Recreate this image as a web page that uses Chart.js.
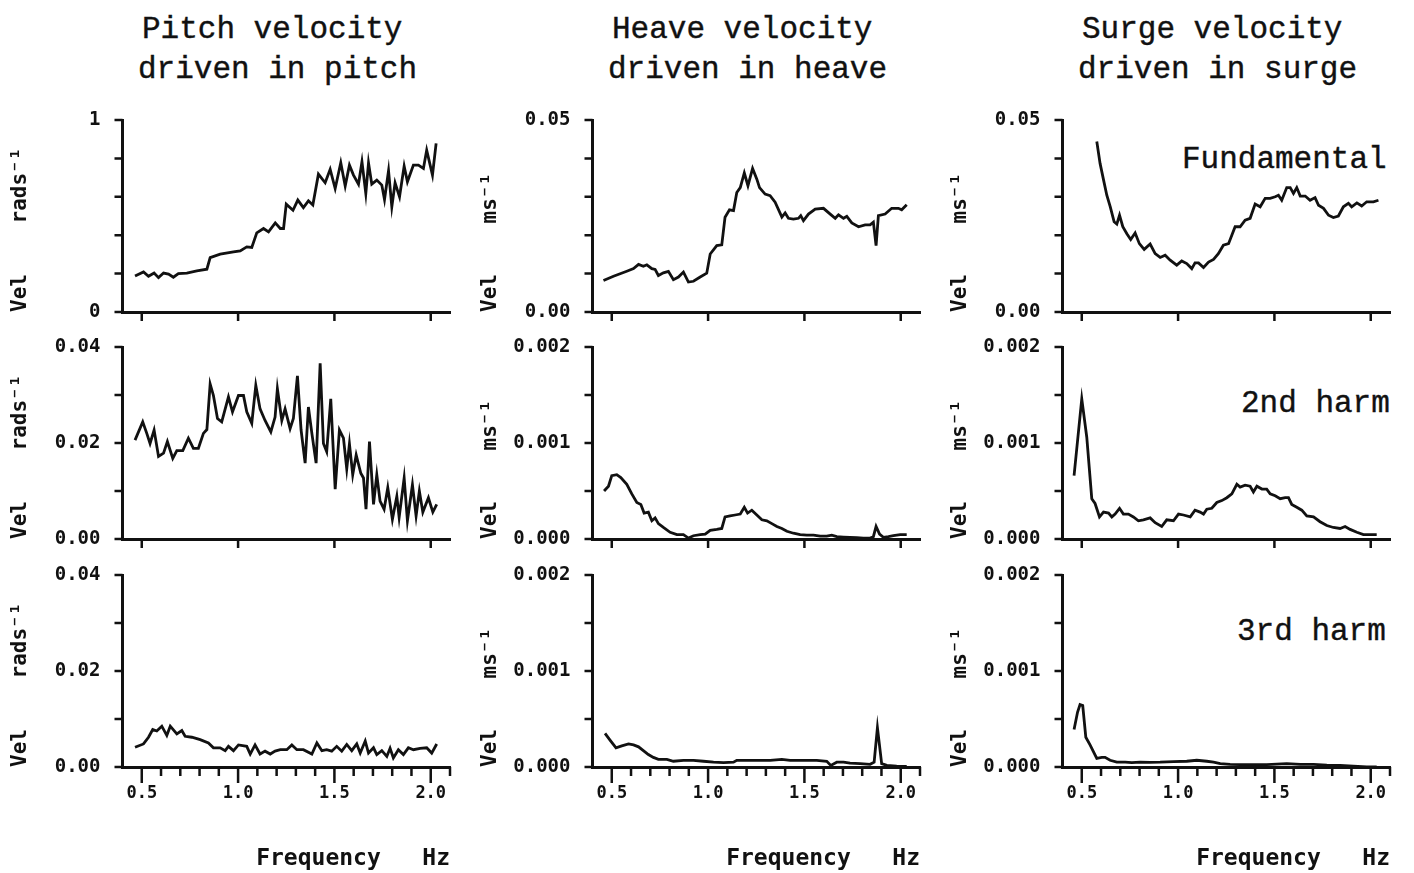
<!DOCTYPE html>
<html>
<head>
<meta charset="utf-8">
<script src="https://cdn.jsdelivr.net/npm/chart.js@4.4.1/dist/chart.umd.min.js"></script>
<style>
  body { margin: 0; background: #fff; width: 1414px; height: 873px; position: relative; overflow: hidden; }
  canvas { position: absolute; }
  .txt { position: absolute; font-family: "Liberation Mono", monospace; font-size: 31px; line-height: 31px;
         color: #111; white-space: pre; -webkit-text-stroke: 0.4px #111; }
</style>
</head>
<body>
<div class="txt" style="left:142px;top:14px">Pitch velocity</div>
<div class="txt" style="left:138px;top:54px">driven in pitch</div>
<div class="txt" style="left:612px;top:14px">Heave velocity</div>
<div class="txt" style="left:608px;top:54px">driven in heave</div>
<div class="txt" style="left:1082px;top:14px">Surge velocity</div>
<div class="txt" style="left:1078px;top:54px">driven in surge</div>
<div class="txt" style="left:1182px;top:144px">Fundamental</div>
<div class="txt" style="left:1241px;top:388px">2nd harm</div>
<div class="txt" style="left:1237px;top:616px">3rd harm</div>

<script>
// pitch velocity, driven in pitch (rad/s)
const pitchFundFreq = [0.465,0.509,0.535,0.564,0.587,0.613,0.639,0.664,0.690,0.734,0.786,0.838,0.855,0.907,0.976,1.011,1.045,1.071,1.097,1.132,1.158,1.193,1.219,1.236,1.250,1.285,1.310,1.339,1.365,1.388,1.417,1.452,1.478,1.504,1.533,1.556,1.578,1.599,1.625,1.643,1.663,1.677,1.694,1.720,1.746,1.760,1.781,1.798,1.815,1.838,1.862,1.879,1.910,1.936,1.962,1.979,2.009,2.028];
const pitchFundVel = [0.188,0.209,0.186,0.203,0.179,0.203,0.197,0.181,0.200,0.203,0.214,0.223,0.283,0.301,0.313,0.318,0.339,0.336,0.412,0.435,0.417,0.464,0.435,0.435,0.562,0.530,0.583,0.544,0.579,0.557,0.718,0.673,0.743,0.643,0.777,0.656,0.765,0.713,0.666,0.783,0.617,0.777,0.666,0.687,0.661,0.586,0.736,0.548,0.673,0.600,0.760,0.678,0.765,0.765,0.748,0.843,0.713,0.878];

const pitch2ndFreq = [0.465,0.505,0.526,0.543,0.564,0.587,0.613,0.633,0.661,0.682,0.713,0.742,0.768,0.794,0.820,0.838,0.855,0.872,0.893,0.915,0.950,0.971,1.002,1.028,1.045,1.071,1.092,1.114,1.140,1.170,1.192,1.204,1.227,1.244,1.270,1.287,1.308,1.327,1.348,1.365,1.383,1.405,1.426,1.443,1.460,1.481,1.504,1.526,1.547,1.564,1.578,1.595,1.613,1.637,1.651,1.664,1.682,1.703,1.720,1.737,1.758,1.777,1.801,1.824,1.836,1.862,1.879,1.905,1.924,1.941,1.959,1.988,2.011,2.031];
const pitch2ndVel = [0.0206,0.0244,0.0220,0.0199,0.0227,0.0172,0.0179,0.0203,0.0168,0.0184,0.0184,0.0210,0.0189,0.0189,0.0220,0.0228,0.0323,0.0299,0.0251,0.0244,0.0296,0.0265,0.0299,0.0299,0.0265,0.0241,0.0320,0.0271,0.0247,0.0223,0.0254,0.0313,0.0247,0.0271,0.0230,0.0251,0.0340,0.0227,0.0158,0.0275,0.0220,0.0158,0.0366,0.0199,0.0182,0.0292,0.0104,0.0227,0.0210,0.0146,0.0198,0.0134,0.0175,0.0137,0.0127,0.0062,0.0203,0.0072,0.0134,0.0079,0.0062,0.0107,0.0041,0.0089,0.0045,0.0127,0.0038,0.0113,0.0048,0.0100,0.0056,0.0086,0.0056,0.0072];

const pitch3rdFreq = [0.465,0.509,0.535,0.557,0.578,0.604,0.630,0.648,0.682,0.708,0.725,0.760,0.803,0.846,0.872,0.907,0.933,0.950,0.976,1.002,1.045,1.063,1.088,1.114,1.140,1.167,1.192,1.219,1.253,1.279,1.305,1.339,1.383,1.409,1.435,1.460,1.486,1.512,1.538,1.564,1.590,1.616,1.634,1.660,1.677,1.703,1.720,1.746,1.772,1.789,1.806,1.832,1.858,1.884,1.910,1.945,1.979,2.005,2.031];
const pitch3rdVel = [0.0041,0.0048,0.0062,0.0078,0.0075,0.0085,0.0066,0.0085,0.0069,0.0076,0.0064,0.0062,0.0057,0.0050,0.0040,0.0040,0.0034,0.0043,0.0034,0.0046,0.0043,0.0027,0.0046,0.0027,0.0033,0.0027,0.0033,0.0036,0.0036,0.0046,0.0036,0.0036,0.0027,0.0050,0.0034,0.0036,0.0033,0.0043,0.0033,0.0047,0.0034,0.0048,0.0029,0.0054,0.0029,0.0040,0.0026,0.0034,0.0022,0.0039,0.0019,0.0036,0.0026,0.0040,0.0036,0.0039,0.0040,0.0029,0.0048];

// heave velocity, driven in heave (m/s)
const heaveFundFreq = [0.457,0.509,0.578,0.613,0.639,0.664,0.682,0.708,0.725,0.742,0.768,0.794,0.820,0.846,0.872,0.898,0.924,0.959,0.993,1.011,1.045,1.071,1.088,1.111,1.132,1.149,1.167,1.188,1.207,1.231,1.253,1.267,1.296,1.322,1.348,1.383,1.400,1.417,1.443,1.469,1.481,1.495,1.521,1.556,1.599,1.634,1.660,1.677,1.703,1.720,1.746,1.781,1.815,1.841,1.858,1.872,1.884,1.919,1.953,1.988,2.005,2.031];
const heaveFundVel = [0.0082,0.0093,0.0106,0.0113,0.0124,0.0119,0.0123,0.0113,0.0111,0.0095,0.0102,0.0106,0.0084,0.0091,0.0104,0.0078,0.0080,0.0091,0.0101,0.0151,0.0173,0.0175,0.0247,0.0266,0.0264,0.0311,0.0324,0.0362,0.0329,0.0374,0.0346,0.0324,0.0307,0.0303,0.0286,0.0247,0.0258,0.0244,0.0242,0.0244,0.0251,0.0238,0.0255,0.0268,0.0270,0.0255,0.0244,0.0253,0.0244,0.0249,0.0232,0.0222,0.0227,0.0227,0.0234,0.0173,0.0251,0.0255,0.0270,0.0270,0.0266,0.0279];

const heave2ndFreq = [0.460,0.483,0.500,0.526,0.547,0.578,0.604,0.630,0.651,0.668,0.690,0.708,0.725,0.742,0.768,0.803,0.838,0.872,0.898,0.924,0.959,0.985,1.011,1.045,1.071,1.088,1.114,1.140,1.167,1.188,1.205,1.227,1.253,1.279,1.305,1.331,1.357,1.383,1.409,1.443,1.478,1.512,1.547,1.582,1.616,1.642,1.668,1.703,1.737,1.772,1.806,1.841,1.858,1.872,1.890,1.910,1.936,1.962,1.997,2.031];
const heave2ndVel = [0.00050,0.00055,0.00066,0.00067,0.00064,0.00057,0.00047,0.00038,0.00036,0.00027,0.00028,0.00019,0.00022,0.00016,0.00012,0.00007,0.000045,0.000045,0.00001,0.000034,0.000045,0.00005,0.00009,0.00010,0.00011,0.00023,0.00024,0.00025,0.00026,0.00033,0.00027,0.00030,0.00025,0.00020,0.00019,0.00016,0.00013,0.00011,0.00008,0.00006,0.000045,0.00004,0.00004,0.00003,0.00003,0.00004,0.000024,0.00002,0.000017,0.000014,0.00001,0.00001,0.000024,0.00013,0.00005,0.000017,0.000024,0.000034,0.000045,0.000045];

const heave3rdFreq = [0.465,0.491,0.522,0.552,0.587,0.613,0.639,0.664,0.690,0.716,0.742,0.786,0.820,0.872,0.924,0.976,1.028,1.080,1.132,1.149,1.201,1.270,1.322,1.383,1.426,1.495,1.564,1.616,1.637,1.668,1.703,1.737,1.789,1.841,1.862,1.879,1.901,1.928,1.979,2.031];
const heave3rdVel = [0.00035,0.00028,0.00020,0.00022,0.00024,0.00023,0.00021,0.00017,0.00013,0.00010,0.00008,0.00008,0.00006,0.00007,0.00007,0.00006,0.00005,0.000045,0.00005,0.00007,0.00007,0.00007,0.00007,0.00008,0.00007,0.00007,0.00007,0.00006,0.000017,0.00005,0.00005,0.00004,0.000035,0.000028,0.00005,0.00041,0.000035,0.000017,0.00001,0.000007];

// surge velocity, driven in surge (m/s)
const surgeFundFreq = [0.578,0.595,0.613,0.630,0.648,0.668,0.682,0.696,0.713,0.734,0.754,0.777,0.799,0.824,0.855,0.881,0.907,0.933,0.959,0.993,1.019,1.045,1.071,1.088,1.106,1.132,1.158,1.184,1.209,1.235,1.262,1.296,1.322,1.348,1.374,1.400,1.426,1.452,1.478,1.504,1.521,1.538,1.564,1.582,1.599,1.616,1.634,1.660,1.685,1.711,1.729,1.755,1.781,1.806,1.832,1.858,1.884,1.901,1.928,1.953,1.979,2.014,2.040];
const surgeFundVel = [0.0444,0.0387,0.0344,0.0304,0.0274,0.0235,0.0229,0.0252,0.0222,0.0204,0.0189,0.0206,0.0178,0.0163,0.0177,0.0152,0.0142,0.0148,0.0135,0.0122,0.0133,0.0126,0.0113,0.0128,0.0128,0.0116,0.0130,0.0137,0.0152,0.0174,0.0178,0.0222,0.0222,0.0239,0.0244,0.0281,0.0274,0.0296,0.0296,0.0300,0.0304,0.0291,0.0324,0.0324,0.0309,0.0324,0.0302,0.0302,0.0291,0.0298,0.0278,0.0270,0.0252,0.0246,0.0250,0.0274,0.0283,0.0274,0.0284,0.0276,0.0287,0.0287,0.0291];

const surge2ndFreq = [0.460,0.500,0.526,0.552,0.569,0.592,0.613,0.639,0.656,0.673,0.696,0.716,0.742,0.768,0.794,0.820,0.855,0.881,0.915,0.941,0.976,1.002,1.028,1.063,1.088,1.114,1.132,1.149,1.175,1.201,1.227,1.253,1.279,1.305,1.322,1.348,1.374,1.391,1.409,1.435,1.460,1.478,1.504,1.530,1.556,1.573,1.590,1.616,1.642,1.668,1.703,1.737,1.772,1.806,1.841,1.867,1.893,1.928,1.962,1.997,2.031];
const surge2ndVel = [0.00066,0.00146,0.00106,0.00042,0.00037,0.00023,0.00028,0.00027,0.00023,0.00026,0.00032,0.00026,0.00026,0.00023,0.00019,0.00020,0.00022,0.00017,0.00013,0.00020,0.00019,0.00026,0.00025,0.00023,0.00030,0.00028,0.00026,0.00031,0.00032,0.00038,0.00040,0.00043,0.00047,0.00057,0.00054,0.00056,0.00055,0.00049,0.00055,0.00052,0.00052,0.00047,0.00045,0.00042,0.00043,0.00043,0.00036,0.00033,0.00030,0.00024,0.00023,0.00018,0.00014,0.00012,0.00011,0.00013,0.00010,0.00007,0.000045,0.000045,0.000045];

const surge3rdFreq = [0.460,0.478,0.491,0.505,0.521,0.543,0.578,0.604,0.621,0.647,0.682,0.725,0.760,0.803,0.855,0.907,0.976,1.045,1.097,1.149,1.184,1.219,1.270,1.322,1.391,1.460,1.564,1.634,1.703,1.772,1.841,1.910,1.979,2.031];
const surge3rdVel = [0.00039,0.00057,0.00065,0.00064,0.00031,0.00023,0.00009,0.00010,0.00010,0.00007,0.00005,0.00005,0.000045,0.00005,0.000049,0.00005,0.000056,0.00006,0.00007,0.00006,0.00005,0.000035,0.000028,0.000024,0.000024,0.000024,0.000035,0.000028,0.000028,0.00002,0.000017,0.00001,0.0,0.0];

const xTickLabels = ['0.5', '1.0', '1.5', '2.0'];
const xTitle = 'Frequency   Hz';
const yTitles = ['Vel    rads\u207B\u00B9', 'Vel    ms\u207B\u00B9', 'Vel    ms\u207B\u00B9'];

// cell geometry: chart area is 122.5..450 across and 25..217 down inside each canvas
const colLeft = [0, 470, 940];
const rowTop = [95, 322, 550];
const rowHeight = [237, 237, 323];

const panels = [
  [pitchFundFreq, pitchFundVel, 0, 0], [heaveFundFreq, heaveFundVel, 0, 1], [surgeFundFreq, surgeFundVel, 0, 2],
  [pitch2ndFreq, pitch2ndVel, 1, 0],   [heave2ndFreq, heave2ndVel, 1, 1],   [surge2ndFreq, surge2ndVel, 1, 2],
  [pitch3rdFreq, pitch3rdVel, 2, 0],   [heave3rdFreq, heave3rdVel, 2, 1],   [surge3rdFreq, surge3rdVel, 2, 2]
];

function yAxisFor(row, col) {
  if (col === 0 && row === 0) return {max: 1, step: 0.2, labelStep: 1, dec: 0};
  if (col === 0) return {max: 0.04, step: 0.01, labelStep: 0.02, dec: 2};
  if (row === 0) return {max: 0.05, step: 0.01, labelStep: 0.05, dec: 2};
  return {max: 0.002, step: 0.0005, labelStep: 0.001, dec: 3};
}

const isMajor = v => Math.abs(v * 2 - Math.round(v * 2)) < 1e-6;

// plotter-style tick marks, longer for the labelled frequencies
const tickMarks = {
  id: 'tickMarks',
  afterDraw(chart, args, opts) {
    const {ctx, chartArea: a, scales: {x, y}} = chart;
    ctx.save();
    ctx.strokeStyle = '#111';
    ctx.lineWidth = 2.5;
    ctx.beginPath();
    x.ticks.forEach(t => {
      const major = isMajor(t.value);
      if (t.value < 0.45) return;
      if (!major && !opts.minor) return;
      const px = x.getPixelForValue(t.value);
      ctx.moveTo(px, a.bottom);
      ctx.lineTo(px, a.bottom + (major ? opts.majorLen : 9));
    });
    y.ticks.forEach(t => {
      const py = y.getPixelForValue(t.value);
      ctx.moveTo(a.left, py);
      ctx.lineTo(a.left - 8, py);
    });
    ctx.stroke();
    ctx.restore();
  }
};

Chart.defaults.font.family = '"DejaVu Sans Mono", monospace';
Chart.defaults.font.weight = 'bold';
Chart.defaults.color = '#111';

panels.forEach(([freq, vals, row, col]) => {
  const bottomRow = row === 2;
  const ya = yAxisFor(row, col);
  const canvas = document.createElement('canvas');
  canvas.width = 470;
  canvas.height = rowHeight[row];
  canvas.style.left = colLeft[col] + 'px';
  canvas.style.top = rowTop[row] + 'px';
  document.body.appendChild(canvas);

  new Chart(canvas.getContext('2d'), {
    type: 'line',
    data: {
      datasets: [{
        data: freq.map((f, i) => ({x: f, y: vals[i]})),
        borderColor: '#111',
        borderWidth: 2.8,
        pointRadius: 0,
        tension: 0
      }]
    },
    plugins: [tickMarks],
    options: {
      responsive: false,
      devicePixelRatio: 1,
      animation: false,
      layout: {padding: {top: 25, right: 20, left: 0, bottom: 0}},
      plugins: {
        legend: {display: false},
        tooltip: {enabled: false},
        tickMarks: {minor: bottomRow, majorLen: bottomRow ? 16 : 9}
      },
      scales: {
        x: {
          type: 'linear',
          min: 0.4,
          max: 2.1,
          grid: {display: false, drawTicks: false},
          border: {display: true, color: '#111', width: 3},
          ticks: {
            display: bottomRow,
            stepSize: 0.1,
            maxTicksLimit: 100,
            autoSkip: false,
            maxRotation: 0,
            padding: 16,
            font: {size: 17},
            callback: v => isMajor(v) && v > 0.45 ? xTickLabels[Math.round(v * 2) - 1] : ''
          },
          title: {
            display: bottomRow,
            text: xTitle,
            align: 'end',
            font: {size: 23},
            padding: {top: 0, bottom: 0}
          },
          afterFit: s => { s.height = rowHeight[row] - 217; }
        },
        y: {
          min: 0,
          max: ya.max,
          // invisible tick length used only to push labels away from the axis
          grid: {display: false, drawTicks: true, tickLength: 22},
          border: {display: true, color: '#111', width: 3},
          ticks: {
            stepSize: ya.step,
            maxTicksLimit: 100,
            autoSkip: false,
            padding: 0,
            font: {size: 19},
            callback: v => {
              const k = v / ya.labelStep;
              return Math.abs(k - Math.round(k)) < 1e-6 ? v.toFixed(ya.dec) : '';
            }
          },
          title: {
            display: true,
            text: yTitles[col],
            align: 'start',
            font: {size: 21},
            padding: {top: 8, bottom: 0}
          },
          afterFit: s => { s.width = 122.5; }
        }
      }
    }
  });
});
</script>
</body>
</html>
